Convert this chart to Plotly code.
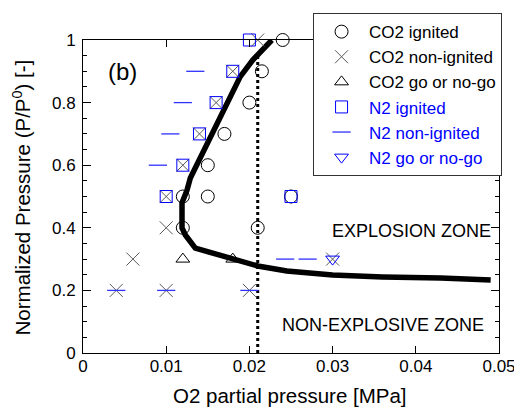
import plotly.graph_objects as go

# ---- data ----
co2_ign_x = [0.024, 0.0215, 0.020, 0.017, 0.015, 0.012, 0.015, 0.025, 0.012, 0.021]
co2_ign_y = [1.0, 0.9, 0.8, 0.7, 0.6, 0.5, 0.5, 0.5, 0.4, 0.4]

co2_non_x = [0.021, 0.018, 0.016, 0.014, 0.012, 0.010, 0.010, 0.006, 0.030, 0.004, 0.010, 0.020]
co2_non_y = [1.0, 0.9, 0.8, 0.7, 0.6, 0.5, 0.4, 0.3, 0.3, 0.2, 0.2, 0.2]

co2_go_x = [0.012, 0.018]
co2_go_y = [0.3, 0.3]

n2_ign_x = [0.020, 0.018, 0.016, 0.014, 0.012, 0.010, 0.025]
n2_ign_y = [1.0, 0.9, 0.8, 0.7, 0.6, 0.5, 0.5]

n2_non_x = [0.0135, 0.012, 0.0105, 0.009, 0.0243, 0.027, 0.004, 0.010, 0.020]
n2_non_y = [0.9, 0.8, 0.7, 0.6, 0.3, 0.3, 0.2, 0.2, 0.2]

n2_go_x = [0.030]
n2_go_y = [0.3]

curve_x = [0.0227, 0.0204, 0.0189, 0.0173, 0.0157, 0.0141, 0.0129, 0.0125, 0.0119, 0.0119,
           0.0123, 0.0135, 0.0149, 0.0177, 0.021, 0.0245, 0.030, 0.036, 0.043, 0.049]
curve_y = [1.0, 0.936, 0.883, 0.798, 0.712, 0.627, 0.559, 0.52, 0.48, 0.40,
           0.377, 0.335, 0.324, 0.302, 0.278, 0.262, 0.249, 0.243, 0.240, 0.233]

limit_x = [0.021, 0.021]
limit_y = [0.0, 0.95]

x_ticks = [0, 0.01, 0.02, 0.03, 0.04, 0.05]
x_ticklabels = ["0", "0.01", "0.02", "0.03", "0.04", "0.05"]
y_ticks = [0, 0.2, 0.4, 0.6, 0.8, 1.0]
y_ticklabels = ["0", "0.2", "0.4", "0.6", "0.8", "1"]

FONT = "Arial, Liberation Sans, sans-serif"
BLUE = "#0000ff"
GREY = "#5a5a5a"

fig = go.Figure()

fig.add_trace(go.Scatter(x=curve_x, y=curve_y, mode="lines",
                         line=dict(color="black", width=5.5), showlegend=False))
fig.add_trace(go.Scatter(x=limit_x, y=limit_y, mode="lines",
                         line=dict(color="black", width=3, dash="dot"), showlegend=False))

fig.add_trace(go.Scatter(x=co2_ign_x, y=co2_ign_y, mode="markers", name="CO2 ignited",
                         cliponaxis=False,
                         marker=dict(symbol="circle-open", size=13, color="black",
                                     line=dict(width=1, color="black"))))
fig.add_trace(go.Scatter(x=co2_non_x, y=co2_non_y, mode="markers", name="CO2 non-ignited",
                         cliponaxis=False,
                         marker=dict(symbol="x-thin-open", size=13, color=GREY,
                                     line=dict(width=1, color=GREY))))
fig.add_trace(go.Scatter(x=co2_go_x, y=co2_go_y, mode="markers", name="CO2 go or no-go",
                         cliponaxis=False,
                         marker=dict(symbol="triangle-up-open", size=12, color="black",
                                     line=dict(width=1, color="black"))))
fig.add_trace(go.Scatter(x=n2_ign_x, y=n2_ign_y, mode="markers",
                         name="<span style='color:#0000ff'>N2 ignited</span>",
                         cliponaxis=False,
                         marker=dict(symbol="square-open", size=12, color=BLUE,
                                     line=dict(width=1, color=BLUE))))
fig.add_trace(go.Scatter(x=n2_non_x, y=n2_non_y, mode="markers",
                         name="<span style='color:#0000ff'>N2 non-ignited</span>",
                         cliponaxis=False,
                         marker=dict(symbol="line-ew-open", size=13, color="#3030ff",
                                     line=dict(width=1.3, color="#3030ff"))))
fig.add_trace(go.Scatter(x=n2_go_x, y=n2_go_y, mode="markers",
                         name="<span style='color:#0000ff'>N2 go or no-go</span>",
                         cliponaxis=False,
                         marker=dict(symbol="triangle-down-open", size=12, color=BLUE,
                                     line=dict(width=1, color=BLUE))))

fig.add_annotation(x=0.0048, y=0.898, text="(b)", showarrow=False,
                   xanchor="center", yanchor="middle",
                   font=dict(family=FONT, size=24, color="black"))
fig.add_annotation(x=0.0493, y=0.39, text="EXPLOSION ZONE", showarrow=False,
                   xanchor="right", yanchor="middle",
                   font=dict(family=FONT, size=18, color="black"))
fig.add_annotation(x=0.0484, y=0.089, text="NON-EXPLOSIVE ZONE", showarrow=False,
                   xanchor="right", yanchor="middle",
                   font=dict(family=FONT, size=18, color="black"))

# axis titles
fig.add_annotation(xref="paper", yref="paper", x=0.498, y=-0.137,
                   xanchor="center", yanchor="middle",
                   text="O2 partial pressure [MPa]", showarrow=False,
                   font=dict(family=FONT, size=20.5, color="black"))
fig.add_annotation(xref="paper", yref="paper", x=-0.1466, y=0.497, textangle=-90,
                   xanchor="center", yanchor="middle",
                   text="Normalized Pressure (P/P<sup>0</sup>) [-]", showarrow=False,
                   font=dict(family=FONT, size=20.5, color="black"))

axis_common = dict(showgrid=False, zeroline=False, showline=True, linecolor="black",
                   linewidth=1, mirror="ticks", ticks="inside", tickcolor="black",
                   automargin=False, ticklabeloverflow="allow",
                   tickfont=dict(family=FONT, size=17, color="black"))

fig.update_xaxes(range=[0, 0.05], tickvals=x_ticks, ticktext=x_ticklabels, ticklen=7,
                 ticklabelstandoff=-2, **axis_common)
fig.update_yaxes(range=[0, 1.0], tickvals=y_ticks, ticktext=y_ticklabels, ticklen=8,
                 ticklabelstandoff=3,
                 minor=dict(dtick=0.05, ticks="inside", ticklen=4, tickcolor="black"),
                 **axis_common)

fig.update_layout(
    width=514, height=412, autosize=False,
    margin=dict(l=83, r=15, t=40, b=59),
    paper_bgcolor="white", plot_bgcolor="white",
    font=dict(family=FONT, size=17, color="black"),
    legend=dict(x=0.553, y=1.086, xanchor="left", yanchor="top",
                bgcolor="white", bordercolor="#333333", borderwidth=1,
                font=dict(family=FONT, size=17, color="black"),
                tracegroupgap=0, itemwidth=45),
)

post = ("document.body.style.margin='0';document.body.style.padding='0';"
        "document.body.style.overflow='hidden';"
        "document.documentElement.style.overflow='hidden';"
        "var gd=document.getElementById('{plot_id}');"
        "Plotly.relayout(gd,{width:514,height:412});")

fig.write_html("out.html", post_script=post, config={"displayModeBar": False})
